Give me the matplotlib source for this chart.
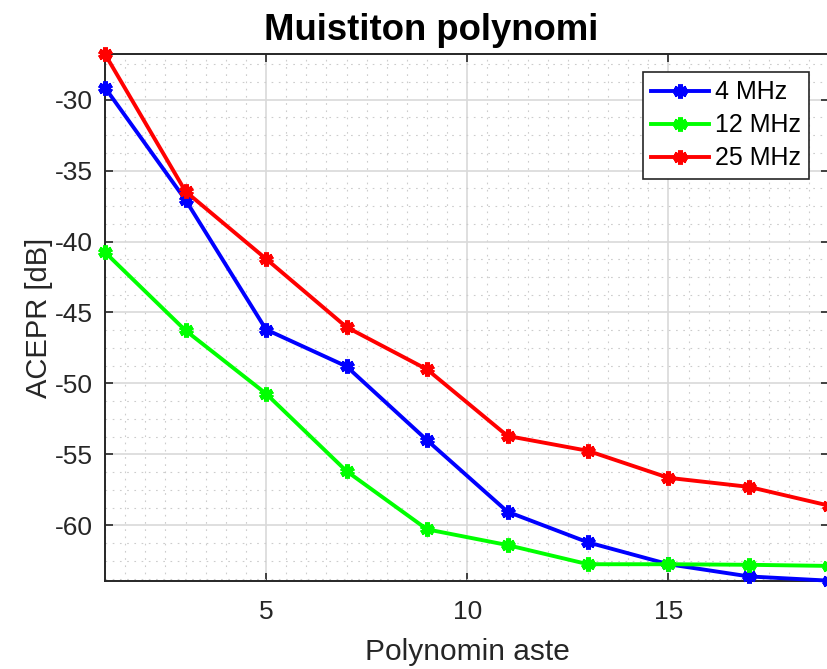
import matplotlib
matplotlib.use("Agg")
import matplotlib.pyplot as plt
from matplotlib.ticker import MultipleLocator

plt.rcParams['font.family'] = ['Liberation Sans', 'DejaVu Sans']
plt.rcParams['axes.unicode_minus'] = False

# Polynomial order and ACEPR per bandwidth
orders = [1, 3, 5, 7, 9, 11, 13, 15, 17, 19]
acepr_4mhz = [-29.16, -37.07, -46.2, -48.8, -54.0, -59.04, -61.2, -62.74, -63.6, -63.9]
acepr_12mhz = [-40.76, -46.27, -50.72, -56.18, -60.28, -61.39, -62.74, -62.74, -62.78, -62.86]
acepr_25mhz = [-26.8, -36.47, -41.22, -46.03, -49.01, -53.7, -54.75, -56.65, -57.29, -58.62]
labels = ['4 MHz', '12 MHz', '25 MHz']
colors = ['#0000ff', '#00ff00', '#ff0000']

fig = plt.figure(figsize=(8.27, 6.69), dpi=100)
ax = fig.add_axes([0.127, 0.132, 0.876, 0.787])

for ys, lab, c in zip([acepr_4mhz, acepr_12mhz, acepr_25mhz], labels, colors):
    ax.plot(orders, ys, color=c, lw=2.8, marker=(6, 2, 0), ms=10, mew=3.6,
            mec=c, mfc=c, label=lab, clip_on=False, zorder=3)

all_vals = acepr_4mhz + acepr_12mhz + acepr_25mhz
ax.set_xlim(min(orders), max(orders))
ax.set_ylim(min(all_vals), max(all_vals))

ax.xaxis.set_major_locator(MultipleLocator(5))
ax.xaxis.set_minor_locator(MultipleLocator(0.5))
ax.yaxis.set_major_locator(MultipleLocator(5))
ax.yaxis.set_minor_locator(MultipleLocator(1.25))

ax.grid(True, which='major', color='#d9d9d9', lw=1.2, zorder=0)
ax.grid(True, which='minor', color='#cccccc', lw=0.8, ls=(0, (1.5, 5)), zorder=0)
ax.set_axisbelow(True)

ax.tick_params(which='major', direction='in', length=6, width=1.2, top=True, right=True,
               labelsize=19, colors='#262626')
ax.tick_params(axis='x', which='major', pad=14)
ax.tick_params(axis='y', which='major', pad=9)
ax.tick_params(which='minor', length=0, top=True, right=True)
for sp in ax.spines.values():
    sp.set_color('#262626')
    sp.set_linewidth(1.4)

ax.set_xlabel('Polynomin aste', fontsize=21.5, color='#262626', labelpad=10)
ax.set_ylabel('ACEPR [dB]', fontsize=21, color='#262626', labelpad=1)
ax.set_title('Muistiton polynomi', fontsize=26.3, fontweight='bold', pad=10,
             x=0.45)

leg = ax.legend(loc='upper right', bbox_to_anchor=(0.972, 0.966), fontsize=18,
                frameon=True, fancybox=False, framealpha=1, edgecolor='#262626',
                handlelength=2.3, handletextpad=0.25, borderpad=0.33, labelspacing=0.36,
                borderaxespad=0)
leg.get_frame().set_linewidth(1.2)

fig.savefig('out.png', dpi=100)
